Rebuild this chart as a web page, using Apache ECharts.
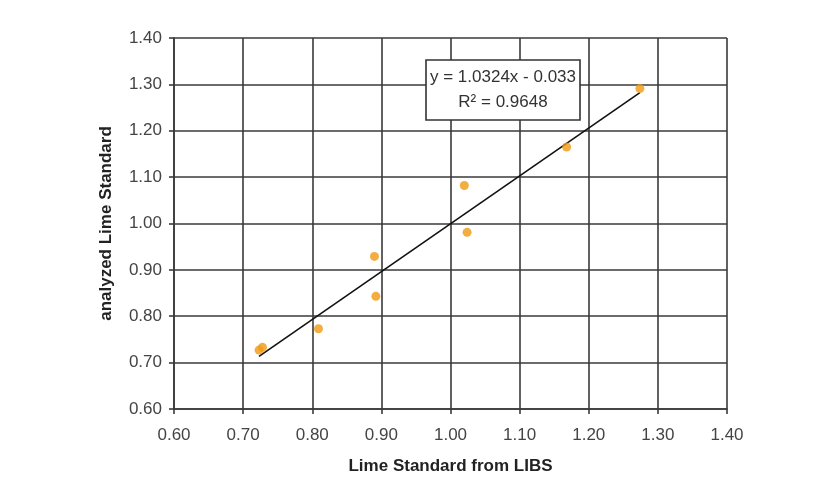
<!DOCTYPE html>
<html>
<head>
<meta charset="utf-8">
<script src="https://cdn.jsdelivr.net/npm/echarts@6/dist/echarts.min.js"></script>
<style>
html,body{margin:0;padding:0;background:#fff;}
#c{width:834px;height:499px;}
</style>
</head>
<body>
<div id="c"></div>
<script>
const xValues = [0.723, 0.728, 0.809, 0.890, 0.892, 1.020, 1.024, 1.168, 1.274];
const yValues = [0.727, 0.733, 0.773, 0.929, 0.843, 1.082, 0.981, 1.165, 1.291];
const slope = 1.0324;
const intercept = -0.033;
const rSquared = 0.9648;
const tickLabels = ['0.60','0.70','0.80','0.90','1.00','1.10','1.20','1.30','1.40'];
const xTitle = 'Lime Standard from LIBS';
const yTitle = 'analyzed Lime Standard';

const points = xValues.map((x, i) => [x, yValues[i]]);
const xMin = Math.min(...xValues), xMax = Math.max(...xValues);
const trend = [[xMin, slope * xMin + intercept], [xMax, slope * xMax + intercept]];

const font = '"Liberation Sans", Arial, sans-serif';
const gridColor = '#3a3a3a';

const chart = echarts.init(document.getElementById('c'));
const axisCommon = {
  min: 0.6, max: 1.4, interval: 0.1,
  axisLine: {show: true, lineStyle: {color: gridColor, width: 1.6}},
  axisTick: {show: true, length: 5, lineStyle: {color: gridColor, width: 1.6}},
  splitLine: {show: true, lineStyle: {color: gridColor, width: 1.6}},
  axisLabel: {color: '#444', fontFamily: font, fontSize: 17,
    formatter: v => tickLabels[Math.round((v - 0.6) / 0.1)]},
  nameLocation: 'middle',
  nameTextStyle: {color: '#222', fontFamily: font, fontSize: 17, fontWeight: 'bold'}
};
chart.setOption({
  animation: false,
  backgroundColor: '#fff',
  grid: {left: 174, right: 107, top: 38, bottom: 90},
  xAxis: Object.assign({}, axisCommon, {type: 'value', name: xTitle, nameGap: 49,
    axisLabel: Object.assign({}, axisCommon.axisLabel, {margin: 18})}),
  yAxis: Object.assign({}, axisCommon, {type: 'value', name: yTitle, nameGap: 59,
    axisLabel: Object.assign({}, axisCommon.axisLabel, {margin: 12})}),
  series: [
    {type: 'line', data: trend, symbol: 'none', lineStyle: {color: '#111', width: 1.6}, z: 3},
    {type: 'scatter', data: points, symbol: 'circle', symbolSize: 9,
      itemStyle: {color: '#ef9a12'}, z: 4}
  ],
  graphic: [
    {type: 'rect', shape: {x: 426, y: 60, width: 154, height: 60},
      style: {fill: '#fff', stroke: '#333', lineWidth: 1.6}, z: 10},
    {type: 'text', x: 503, y: 77, z: 11,
      style: {text: 'y = ' + slope.toFixed(4) + 'x - ' + Math.abs(intercept).toFixed(3),
        font: '17px ' + font, fill: '#333', align: 'center', verticalAlign: 'middle'}},
    {type: 'text', x: 503, y: 102, z: 11,
      style: {text: 'R\u00B2 = ' + rSquared.toFixed(4),
        font: '17px ' + font, fill: '#333', align: 'center', verticalAlign: 'middle'}}
  ]
});
</script>
</body>
</html>
